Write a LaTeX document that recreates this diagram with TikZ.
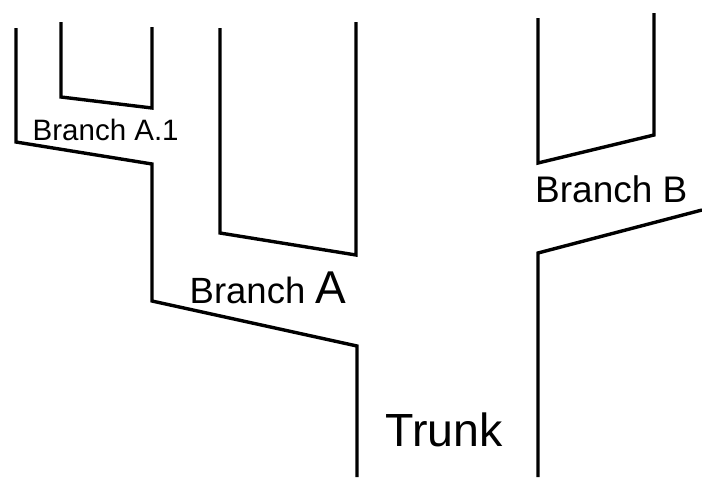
\documentclass[tikz,border=0pt]{standalone}
\usepackage{fontspec}
\setmainfont{Liberation Sans}
\begin{document}
\begin{tikzpicture}[x=1pt,y=-1pt,
  branchline/.style={line width=3.4pt,line join=miter},
  lbl/.style={inner sep=0pt,anchor=base west}]
\useasboundingbox (0,0) rectangle (702,477);
% trunk left side and branch A.1 outer
\draw[branchline] (16,28) -- (16,142) -- (152,164) -- (152,301) -- (357,346) -- (357,477);
% branch A.1 inner U
\draw[branchline] (61,22) -- (61,97) -- (152,108) -- (152,27);
% branch A U
\draw[branchline] (220,28) -- (220,233) -- (356,255) -- (356,22);
% branch B U
\draw[branchline] (538,18) -- (538,163) -- (654,135) -- (654,13);
% trunk right side
\draw[branchline] (538,477) -- (538,253) -- (702,210);
% labels
\node[lbl] (la1) at (32.5,140) {\fontsize{29.5}{31}\selectfont Branch A.1};
\node[lbl] (la) at (189.5,303) {\fontsize{36.5}{38}\selectfont Branch \fontsize{46}{48}\selectfont A};
\node[lbl] (lt) at (385.5,446) {\fontsize{46.5}{48}\selectfont Trunk};
\node[lbl] (lb) at (535,202) {\fontsize{37}{39}\selectfont Branch B};
\end{tikzpicture}
\end{document}
